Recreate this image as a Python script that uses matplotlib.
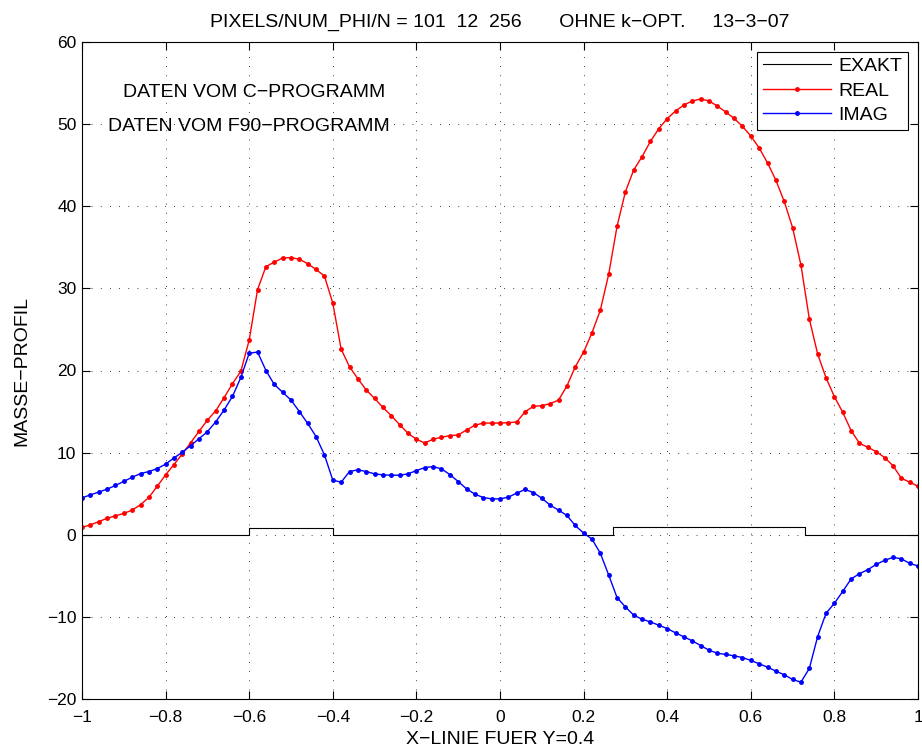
import numpy as np
import matplotlib
matplotlib.use("Agg")
import matplotlib.pyplot as plt

plt.rcParams['font.family'] = ['Liberation Sans', 'DejaVu Sans']

x = np.linspace(-1, 1, 101)

real_vals = [
    0.9, 1.2, 1.6, 2.0, 2.3, 2.6, 3.0, 3.65, 4.55, 5.9,
    7.3, 8.55, 9.85, 11.2, 12.6, 13.95, 15.1, 16.7, 18.4, 19.9,
    23.7, 29.85, 32.65, 33.2, 33.7, 33.75, 33.55, 33.0, 32.3, 31.5,
    28.2, 22.6, 20.45, 19.0, 17.62, 16.6, 15.5, 14.5, 13.4, 12.35,
    11.63, 11.18, 11.63, 11.87, 12.07, 12.15, 12.76, 13.33, 13.6, 13.6,
    13.6, 13.65, 13.73, 14.98, 15.64, 15.71, 15.96, 16.4, 18.1, 20.45,
    22.24, 24.58, 27.34, 31.71, 37.55, 41.76, 44.43, 46.05, 47.91, 49.45,
    50.67, 51.6, 52.33, 52.82, 53.06, 52.82, 52.2, 51.48, 50.7, 49.73,
    48.56, 47.1, 45.28, 43.17, 40.58, 37.39, 32.84, 26.28, 21.99, 19.11,
    16.81, 14.9, 12.68, 11.14, 10.65, 10.12, 9.4, 8.42, 6.89, 6.4,
    5.91]

imag_vals = [
    4.5, 4.85, 5.2, 5.55, 6.0, 6.5, 7.0, 7.45, 7.7, 8.05,
    8.6, 9.35, 10.05, 10.85, 11.7, 12.55, 13.75, 15.2, 16.85, 19.15,
    22.1, 22.25, 20.0, 18.3, 17.35, 16.4, 15.0, 13.55, 11.95, 9.72,
    6.65, 6.4, 7.7, 7.9, 7.7, 7.41, 7.29, 7.25, 7.25, 7.41,
    7.82, 8.18, 8.3, 8.02, 7.33, 6.48, 5.59, 4.94, 4.53, 4.37,
    4.37, 4.58, 5.07, 5.51, 5.14, 4.45, 3.6, 3.0, 2.35, 1.13,
    0.2, -0.53, -2.25, -4.9, -7.65, -8.79, -9.8, -10.29, -10.61, -11.02,
    -11.42, -11.95, -12.43, -12.92, -13.49, -14.06, -14.42, -14.58, -14.74, -14.95,
    -15.31, -15.71, -16.12, -16.61, -17.05, -17.62, -17.95, -16.28, -12.39, -9.56,
    -8.35, -6.89, -5.38, -4.74, -4.25, -3.61, -3.12, -2.76, -2.92, -3.49,
    -3.8]

exakt_x = [-1, -0.6, -0.6, -0.4, -0.4, 0.27, 0.27, 0.73, 0.73, 1]
exakt_y = [0, 0, 0.8, 0.8, 0, 0, 1.0, 1.0, 0, 0]

xticks = [-1, -0.8, -0.6, -0.4, -0.2, 0, 0.2, 0.4, 0.6, 0.8, 1]
yticks = [-20, -10, 0, 10, 20, 30, 40, 50, 60]

fig = plt.figure(figsize=(9.22, 7.53), dpi=100)
ax = fig.add_axes([82/922, 54/753, 836/922, 657/753])

ax.plot(exakt_x, exakt_y, color='black', lw=0.8, label='EXAKT')
ax.plot(x, real_vals, color='red', lw=1.0, marker='.', ms=5, label='REAL')
ax.plot(x, imag_vals, color='blue', lw=1.0, marker='.', ms=5, label='IMAG')

ax.set_xlim(-1, 1)
ax.set_ylim(-20, 60)
ax.set_xticks(xticks)
ax.set_yticks(yticks)
ax.set_xticklabels(['\u22121', '\u22120.8', '\u22120.6', '\u22120.4', '\u22120.2', '0',
                    '0.2', '0.4', '0.6', '0.8', '1'])
ax.set_yticklabels(['\u221220', '\u221210', '0', '10', '20', '30', '40', '50', '60'])
ax.tick_params(direction='in', top=True, right=True, labelsize=12.5, length=6, width=0.8, pad=4)
ax.tick_params(axis='x', pad=8)
ax.grid(True, color='black', linestyle=(0, (1, 10)), linewidth=0.6)
for s in ax.spines.values():
    s.set_linewidth(0.8)

ax.set_title('PIXELS/NUM_PHI/N = 101  12  256       OHNE k\u2212OPT.     13\u22123\u221207',
             fontsize=14, pad=11)
ax.set_xlabel('X\u2212LINIE FUER Y=0.4', fontsize=14, labelpad=4)
ax.set_ylabel('MASSE\u2212PROFIL', fontsize=14, labelpad=12)

ax.text(-0.902, 53.9, 'DATEN VOM C\u2212PROGRAMM', fontsize=14, va='center', ha='left')
ax.text(-0.938, 49.7, 'DATEN VOM F90\u2212PROGRAMM', fontsize=14, va='center', ha='left')

leg = ax.legend(loc='upper right', fontsize=14, frameon=True, fancybox=False,
                edgecolor='black', borderaxespad=0.5, handlelength=3.5, numpoints=1,
                labelspacing=0.35, borderpad=0.3, handletextpad=0.4)
leg.get_frame().set_linewidth(0.8)
leg.get_frame().set_alpha(1)

fig.savefig('out.png', dpi=100)
